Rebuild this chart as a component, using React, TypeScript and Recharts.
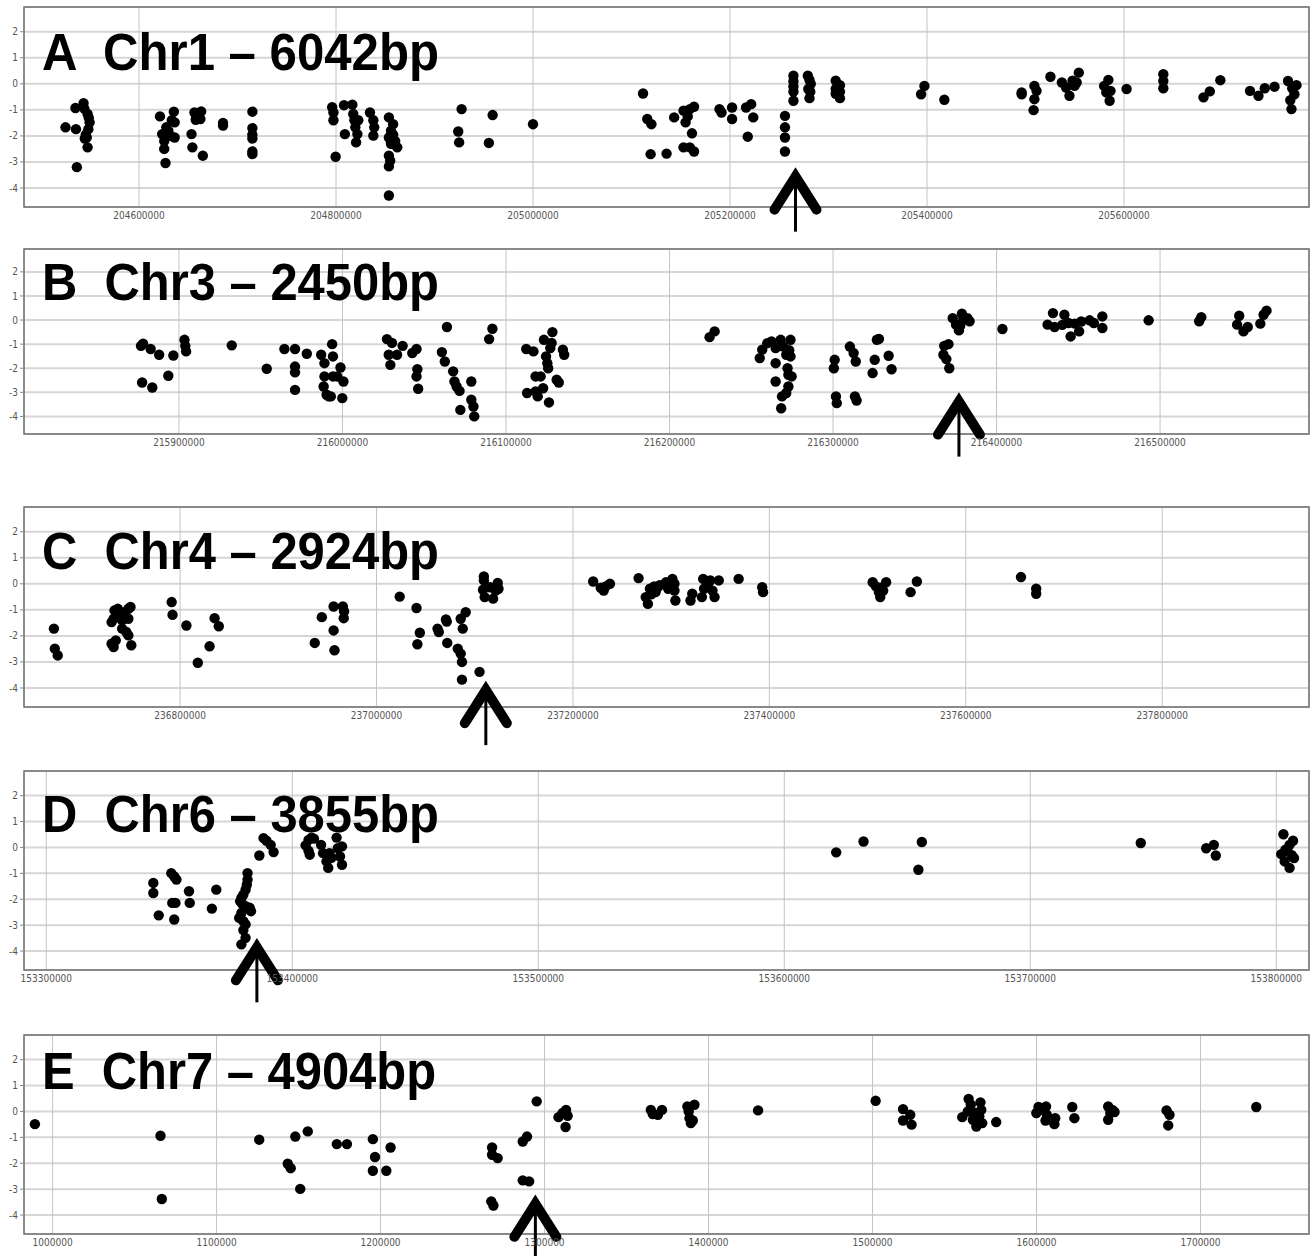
import React from "react";
import {
  ScatterChart,
  Scatter,
  XAxis,
  YAxis,
  CartesianGrid,
  ReferenceArea,
  ReferenceDot,
} from "recharts";

// ---------- data: [genomic position, value] ----------
const chr1Points: [number, number][] = [
  [204525400, -1.67], [204536000, -1.74], [204535500, -0.93], [204536900, -3.2], [204543700, -0.74],
  [204544500, -0.95], [204547800, -1.16], [204549900, -1.48], [204548600, -1.74], [204546900, -2.06],
  [204547800, -2.44], [204549000, -1.3], [204546000, -1.95], [204545000, -2.1],
  [204621300, -1.25], [204623500, -1.93], [204625600, -2.2], [204625600, -2.5], [204626900, -3.04],
  [204627700, -1.67], [204629800, -1.8], [204632000, -2.0], [204635400, -1.07], [204636200, -1.48],
  [204636200, -2.06], [204633300, -1.4],
  [204653300, -1.93], [204654200, -2.44], [204656300, -1.1], [204657600, -1.38], [204659700, -1.2],
  [204662300, -1.35], [204663100, -1.06], [204664800, -2.76],
  [204685300, -1.5], [204685300, -1.6],
  [204715100, -1.07], [204715100, -1.7], [204715100, -1.95], [204715100, -2.1], [204715100, -2.6], [204715100, -2.7],
  [204796100, -0.9], [204797400, -1.1], [204797400, -1.4], [204799600, -2.8], [204808100, -0.82],
  [204809000, -1.93], [204816600, -0.8], [204817500, -1.16], [204818700, -1.4], [204819600, -1.67],
  [204820400, -2.25], [204821700, -1.93], [204822600, -1.4], [204834500, -1.1], [204837900, -1.4],
  [204837900, -1.99], [204838800, -1.67],
  [204853700, -1.29], [204853700, -2.06], [204853700, -2.76], [204853700, -3.17], [204853700, -4.29],
  [204855000, -2.95], [204855800, -1.8], [204855800, -2.3], [204858000, -1.55], [204858000, -1.95],
  [204860100, -2.2], [204862200, -2.44],
  [204924100, -1.83], [204925000, -2.25], [204927500, -0.97],
  [204955200, -2.27], [204959000, -1.2],
  [205000000, -1.55],
  [205111700, -0.37], [205116000, -1.35], [205120200, -1.55], [205119400, -2.7],
  [205135600, -2.68], [205143300, -1.29], [205152800, -1.03], [205152800, -2.44], [205154900, -1.48],
  [205157100, -1.25], [205159200, -0.97], [205159200, -2.44], [205161400, -1.9], [205163500, -0.88],
  [205163500, -2.6], [205189300, -0.97], [205191400, -1.1], [205202100, -0.91], [205202100, -1.35],
  [205216300, -0.91], [205218000, -2.03], [205221500, -0.78], [205223600, -1.29],
  [205255800, -1.23], [205255800, -1.67], [205255800, -2.06], [205255800, -2.6],
  [205264400, 0.31], [205264400, 0.1], [205264400, -0.1], [205264400, -0.3], [205264400, -0.65],
  [205279000, 0.31], [205280700, 0.15], [205282000, 0.0], [205279500, -0.2], [205281500, -0.3], [205280700, -0.55],
  [205307300, 0.12], [205307300, -0.2], [205307300, -0.38], [205311600, -0.05], [205311600, -0.55], [205311600, -0.3],
  [205394000, -0.4], [205397400, -0.08],
  [205417600, -0.61],
  [205496100, -0.33], [205496100, -0.4],
  [205508200, -1.01], [205509000, -0.08], [205509000, -0.59], [205511200, -0.27],
  [205525300, 0.27],
  [205536900, 0.05], [205541200, -0.14], [205544600, -0.46], [205547700, 0.12], [205549800, -0.08],
  [205554100, 0.43], [205551900, 0.05],
  [205579800, -0.08], [205582000, -0.33], [205584100, 0.15], [205586300, -0.27], [205585400, -0.65],
  [205602600, -0.2],
  [205639900, 0.37], [205639900, 0.11], [205639900, -0.17],
  [205680700, -0.52], [205687100, -0.29], [205697800, 0.14],
  [205727900, -0.27], [205736500, -0.46], [205742900, -0.17], [205752800, -0.11],
  [205766500, 0.11], [205768800, -0.63], [205770000, -0.97], [205770800, -0.17], [205773000, -0.4], [205775100, -0.05],
];

const chr3Points: [number, number][] = [
  [215876800, -1.07], [215877500, -2.59], [215878100, -0.98], [215882700, -1.2], [215883700, -2.8],
  [215887900, -1.44], [215893500, -2.31], [215896600, -1.47], [215903400, -0.82], [215903900, -1.07], [215904400, -1.3],
  [215932300, -1.05],
  [215953700, -2.02],
  [215964500, -1.2],
  [215971000, -1.2], [215971000, -1.93], [215971000, -2.17], [215971000, -2.9],
  [215978200, -1.4],
  [215987000, -1.44], [215988500, -2.76], [215989000, -1.79], [215989000, -2.34], [215990300, -3.1], [215991600, -3.17],
  [215993700, -1.0], [215994200, -1.51], [215994200, -2.34], [215992900, -3.17],
  [215996800, -2.34], [215998800, -1.97], [216000600, -2.55], [215999900, -3.24],
  [216027200, -0.79], [216028300, -1.44], [216029300, -1.86], [216030300, -0.95], [216033400, -1.44], [216036800, -1.07],
  [216042700, -1.37], [216045300, -1.2], [216045300, -2.34], [216045800, -2.04], [216046300, -2.85],
  [216060800, -1.33], [216062600, -1.72], [216063900, -0.29],
  [216067700, -2.13], [216068500, -2.55], [216069800, -2.76], [216071600, -2.94], [216072100, -3.73],
  [216078800, -2.55], [216078800, -3.31], [216080100, -3.59], [216080600, -4.0],
  [216089700, -0.79], [216091700, -0.36],
  [216112400, -1.2], [216112900, -3.03], [216116800, -1.3],
  [216118100, -2.96], [216118100, -2.34], [216119400, -3.17], [216121200, -2.34],
  [216122700, -2.83], [216123200, -0.82], [216124500, -1.51], [216125300, -1.79], [216125800, -2.0], [216126300, -3.42],
  [216127100, -1.16], [216127900, -0.95], [216128400, -0.5],
  [216131000, -2.48], [216132300, -2.59], [216134800, -1.23], [216135600, -1.44],
  [216224500, -0.71], [216227600, -0.47],
  [216255200, -1.58], [216256700, -1.23], [216259800, -0.96], [216262400, -0.89], [216264900, -1.16],
  [216264900, -1.79], [216264900, -2.55], [216268000, -0.82], [216268300, -3.66], [216268800, -3.17],
  [216269600, -1.1], [216271400, -1.44], [216271400, -3.03], [216272200, -2.0], [216272700, -2.27],
  [216272700, -2.76], [216273200, -1.25], [216274000, -0.82], [216274000, -1.51], [216274700, -2.34],
  [216300500, -2.0], [216301000, -1.65], [216301800, -3.17], [216302300, -3.45],
  [216310300, -1.1], [216312600, -1.37], [216313400, -3.17], [216313900, -1.72], [216314400, -3.34],
  [216324200, -2.2], [216325500, -1.65], [216326800, -0.82], [216328100, -0.78],
  [216334000, -1.48], [216335800, -2.04],
  [216367500, -1.44], [216368000, -1.07], [216369300, -1.62], [216370600, -1.0], [216371100, -2.0],
  [216373200, 0.08], [216375200, -0.19], [216377000, -0.43], [216377800, -0.24], [216378800, 0.26],
  [216379600, 0.01], [216382200, 0.08], [216383500, -0.05],
  [216403600, -0.37],
  [216431200, -0.19], [216434500, 0.29], [216435500, -0.29], [216440200, -0.2], [216441500, 0.22],
  [216444000, -0.12], [216445300, -0.68], [216447900, -0.15], [216450500, -0.47], [216451800, -0.06],
  [216456900, -0.01], [216459500, -0.12], [216464700, 0.15], [216464700, -0.33],
  [216493000, -0.01],
  [216523900, -0.05], [216525200, 0.12],
  [216547100, -0.19], [216548400, 0.18], [216551000, -0.47], [216553600, -0.29],
  [216561300, -0.15], [216563300, 0.22], [216565100, 0.39],
];

const chr4Points: [number, number][] = [
  [236671500, -1.72], [236672400, -2.49], [236675400, -2.75],
  [236730200, -1.47], [236730200, -2.3], [236732300, -1.34], [236732300, -2.43], [236733200, -1.02],
  [236734500, -2.17], [236736600, -0.96], [236738800, -1.21], [236740900, -1.4], [236740900, -1.72],
  [236743000, -1.1], [236745200, -1.85], [236747300, -0.96], [236747300, -1.34], [236747300, -1.98],
  [236749500, -0.89], [236750300, -2.36],
  [236791400, -0.7], [236792300, -1.19],
  [236806400, -1.6],
  [236818000, -3.03],
  [236830000, -2.4],
  [236835100, -1.32], [236839400, -1.63],
  [236937100, -2.27],
  [236944300, -1.28],
  [236956300, -0.87], [236956300, -1.79], [236957200, -2.55],
  [236965700, -0.87], [236966600, -1.32], [236967000, -1.06],
  [237023600, -0.49],
  [237040700, -0.93], [237041600, -2.32], [237044100, -1.88],
  [237062100, -1.72], [237063400, -1.85],
  [237070700, -1.37], [237071500, -1.45], [237072000, -2.27],
  [237082700, -2.49], [237085700, -1.34], [237085700, -2.68], [237087000, -3.0], [237087000, -3.68],
  [237087800, -1.72], [237090800, -1.09],
  [237104900, -3.38],
  [237108400, -0.23], [237109300, 0.28], [237109300, 0.13], [237110100, -0.51], [237115700, -0.13],
  [237118700, -0.57], [237121300, -0.26], [237123400, 0.03], [237124200, -0.19],
  [237220600, 0.09],
  [237228300, -0.15], [237231300, -0.26], [237233400, -0.1], [237237700, 0.0],
  [237266800, 0.22],
  [237274100, -0.51], [237276300, -0.77], [237278400, -0.19], [237282700, -0.1], [237279800, -0.4],
  [237284100, -0.32], [237286300, -0.13], [237288400, -0.05],
  [237294800, 0.06], [237297000, -0.19],
  [237301300, 0.19], [237303400, 0.0], [237303400, -0.26], [237304300, -0.64],
  [237319700, -0.64], [237321500, -0.38],
  [237331300, -0.51], [237332600, 0.19], [237333500, -0.19],
  [237337800, 0.0], [237339900, 0.13], [237342100, -0.26], [237344200, -0.51],
  [237348500, 0.13],
  [237368700, 0.19],
  [237392700, -0.13], [237393600, -0.32],
  [237505200, 0.06], [237508600, -0.1], [237511600, -0.32], [237512900, -0.51], [237513700, -0.15],
  [237515900, -0.26], [237518900, 0.06],
  [237543800, -0.32],
  [237550200, 0.09],
  [237656200, 0.26],
  [237671700, -0.19], [237671700, -0.38],
];

const chr6Points: [number, number][] = [
  [153343500, -1.37], [153343500, -1.76], [153345700, -2.62],
  [153350800, -0.99], [153351200, -2.14], [153352000, -1.12], [153352000, -2.78], [153352500, -2.14], [153352900, -1.24],
  [153358000, -1.69], [153358300, -2.14],
  [153367300, -2.36],
  [153369100, -1.63],
  [153378400, -2.72], [153378800, -2.08], [153379300, -1.95], [153379300, -2.53], [153379300, -3.74],
  [153379800, -2.2], [153380100, -1.82], [153380100, -2.85], [153380100, -3.19], [153381000, -1.63],
  [153381000, -2.27], [153381000, -2.97], [153381000, -3.49], [153381500, -1.44], [153381800, -0.99],
  [153381800, -1.24], [153382700, -2.33], [153383200, -2.46],
  [153386600, -0.31],
  [153388300, 0.36], [153389500, 0.26], [153391200, 0.1], [153392400, -0.18],
  [153405400, 0.08], [153406600, 0.29], [153406600, -0.13], [153407100, -0.28], [153407800, 0.38], [153408800, 0.34],
  [153411700, 0.1], [153412500, -0.22], [153413900, -0.54], [153414600, -0.79], [153415100, -0.22], [153415900, -0.4],
  [153418000, 0.38], [153418500, -0.03], [153419400, -0.35], [153420200, 0.04], [153420200, -0.67],
  [153621100, -0.19],
  [153632200, 0.23],
  [153654500, -0.86], [153655900, 0.21],
  [153744900, 0.17],
  [153771500, -0.03], [153774600, 0.1], [153775400, -0.31],
  [153802000, -0.26], [153802900, 0.51], [153803400, -0.54], [153803700, -0.09], [153804600, -0.15],
  [153805400, 0.1], [153805400, -0.79], [153806300, -0.3], [153806800, 0.26], [153807200, -0.41],
];

const chr7Points: [number, number][] = [
  [989200, -0.49],
  [1065800, -0.94], [1066600, -3.38],
  [1126000, -1.09],
  [1143400, -2.02], [1145200, -2.19],
  [1148000, -0.97],
  [1151000, -2.99],
  [1155600, -0.77],
  [1173300, -1.26],
  [1179500, -1.26],
  [1195300, -1.07], [1195300, -2.29],
  [1196600, -1.76],
  [1203500, -2.29],
  [1206100, -1.39],
  [1267500, -3.47], [1268000, -1.39], [1268000, -1.67], [1268800, -3.63], [1271400, -1.8],
  [1286700, -1.16], [1286700, -2.66], [1289300, -0.97], [1290600, -2.7],
  [1295200, 0.39],
  [1308500, -0.22], [1311000, -0.06], [1312800, -0.6], [1313100, 0.06], [1314100, -0.17],
  [1364800, 0.06], [1366000, -0.1], [1369100, -0.13], [1371600, 0.06],
  [1387100, 0.19], [1387900, 0.0], [1388400, -0.26], [1389200, -0.45], [1390400, -0.35], [1391400, 0.26],
  [1430200, 0.04],
  [1501900, 0.41],
  [1518600, 0.09], [1518600, -0.35], [1523000, -0.13], [1523800, -0.51],
  [1554700, -0.22], [1558100, 0.0], [1558600, 0.48], [1559900, 0.26], [1561200, -0.32], [1562500, -0.06],
  [1563300, -0.58], [1565100, -0.19], [1565800, 0.35], [1566300, 0.06], [1566900, -0.45],
  [1575400, -0.41],
  [1599900, -0.06], [1601200, 0.17], [1603800, 0.06], [1605500, -0.35], [1605800, 0.19], [1606300, -0.13],
  [1610900, -0.49], [1611400, -0.26],
  [1621800, 0.17], [1623100, -0.26],
  [1643700, 0.19], [1643700, -0.32], [1645000, -0.06], [1646300, 0.06], [1647600, -0.02],
  [1679300, 0.04], [1680300, -0.54], [1681100, -0.13],
  [1734000, 0.17],
];

// ---------- tick labels ----------
const chr1Ticks = [204600000, 204800000, 205000000, 205200000, 205400000, 205600000];
const chr3Ticks = [215900000, 216000000, 216100000, 216200000, 216300000, 216400000, 216500000];
const chr4Ticks = [236800000, 237000000, 237200000, 237400000, 237600000, 237800000];
const chr6Ticks = [153300000, 153400000, 153500000, 153600000, 153700000, 153800000];
const chr7Ticks = [1000000, 1100000, 1200000, 1300000, 1400000, 1500000, 1600000, 1700000];
const yTicks = [-4, -3, -2, -1, 0, 1, 2];

// ---------- arrow annotations (position, value of arrow tip) ----------
const chr1Arrow = { pos: 205266500, value: -3.18 };
const chr3Arrow = { pos: 216377000, value: -2.97 };
const chr4Arrow = { pos: 237111300, value: -3.7 };
const chr6Arrow = { pos: 153385600, value: -3.47 };
const chr7Arrow = { pos: 1294400, value: -3.18 };

// ---------- layout ----------
const Y_DOMAIN: [number, number] = [-4.73, 2.95];
const MARGIN_TOP = 4;
const XAXIS_H = 45;

const panels = [
  { title: "A  Chr1 \u2013 6042bp", points: chr1Points, ticks: chr1Ticks, arrow: chr1Arrow,
    domain: [204483250, 205787800], top: 7, plotH: 200, titleY: 69.5 },
  { title: "B  Chr3 \u2013 2450bp", points: chr3Points, ticks: chr3Ticks, arrow: chr3Arrow,
    domain: [215805260, 216591070], top: 249, plotH: 185, titleY: 300 },
  { title: "C  Chr4 \u2013 2924bp", points: chr4Points, ticks: chr4Ticks, arrow: chr4Arrow,
    domain: [236641040, 237949490], top: 507, plotH: 200, titleY: 569 },
  { title: "D  Chr6 \u2013 3855bp", points: chr6Points, ticks: chr6Ticks, arrow: chr6Arrow,
    domain: [153290930, 153813290], top: 771, plotH: 199, titleY: 832 },
  { title: "E  Chr7 \u2013 4904bp", points: chr7Points, ticks: chr7Ticks, arrow: chr7Arrow,
    domain: [982560, 1766160], top: 1035, plotH: 199, titleY: 1089 },
];

const tickFont = "'Liberation Sans Narrow', 'DejaVu Sans Condensed', 'Arial Narrow', sans-serif";

const Dot = (props: any) => {
  const { cx, cy } = props;
  if (cx == null || cy == null) return null;
  return <circle cx={cx} cy={cy} r={5.2} fill="#000" />;
};

const Arrow = (props: any) => {
  const { cx, cy } = props;
  if (cx == null || cy == null) return null;
  return (
    <g>
      <line x1={cx} y1={cy + 4} x2={cx} y2={cy + 65} stroke="#000" strokeWidth={3} />
      <path
        d={`M${cx - 21},${cy + 43} L${cx},${cy + 10} L${cx + 21},${cy + 43}`}
        stroke="#000"
        strokeWidth={10}
        strokeLinecap="round"
        strokeLinejoin="miter"
        fill="none"
      />
    </g>
  );
};

function Panel({ p }: { p: any }) {
  const rows = p.points.map(([pos, value]: [number, number]) => ({ pos, value }));
  const h = MARGIN_TOP + p.plotH + XAXIS_H;
  return (
    <div style={{ position: "absolute", left: 0, top: p.top - MARGIN_TOP, width: 1313, height: h }}>
      <ScatterChart width={1313} height={h} margin={{ top: MARGIN_TOP, right: 4, bottom: 0, left: 0 }}>
        <CartesianGrid horizontal={true} vertical={false} stroke="#d6d6d6" strokeWidth={2} />
        <CartesianGrid horizontal={false} vertical={true} stroke="#c4c4c4" strokeWidth={1} />
        <XAxis
          type="number"
          dataKey="pos"
          domain={p.domain}
          ticks={p.ticks}
          interval={0}
          allowDataOverflow
          height={XAXIS_H}
          axisLine={false}
          tickLine={false}
          tickSize={3}
          tickMargin={2}
          tick={{ fontSize: 10, fill: "#555", fontFamily: tickFont }}
        />
        <YAxis
          type="number"
          dataKey="value"
          domain={Y_DOMAIN}
          ticks={yTicks}
          interval={0}
          allowDataOverflow
          width={24}
          axisLine={false}
          tickLine={{ stroke: "#888" }}
          tickSize={4}
          tickMargin={2}
          tick={{ fontSize: 10, fill: "#555", fontFamily: tickFont }}
        />
        <ReferenceArea
          x1={p.domain[0]}
          x2={p.domain[1]}
          y1={Y_DOMAIN[0]}
          y2={Y_DOMAIN[1]}
          fill="none"
          fillOpacity={0}
          stroke="#707070"
          strokeWidth={1.5}
          ifOverflow="visible"
        />
        <Scatter data={rows} fill="#000" shape={Dot} isAnimationActive={false} />
        <ReferenceDot
          x={p.arrow.pos}
          y={p.arrow.value}
          ifOverflow="visible"
          shape={Arrow}
        />
      </ScatterChart>
    </div>
  );
}

export default function App() {
  return (
    <div
      style={{
        position: "absolute",
        left: 0,
        top: 0,
        width: 1313,
        height: 1256,
        overflow: "hidden",
        background: "#fff",
      }}
    >
      {panels.map((p, i) => (
        <Panel key={i} p={p} />
      ))}
      <svg
        width={1313}
        height={1256}
        style={{ position: "absolute", left: 0, top: 0, pointerEvents: "none" }}
      >
        {panels.map((p, i) => (
          <text
            key={i}
            x={42}
            y={p.titleY}
            xmlSpace="preserve"
            style={{ whiteSpace: "pre" }}
            fontFamily="'Liberation Sans', Arial, sans-serif"
            fontWeight="bold"
            fontSize={51}
            textLength={i === 4 ? 394 : 397}
            lengthAdjust="spacingAndGlyphs"
            fill="#000"
          >
            {p.title}
          </text>
        ))}
      </svg>
    </div>
  );
}
